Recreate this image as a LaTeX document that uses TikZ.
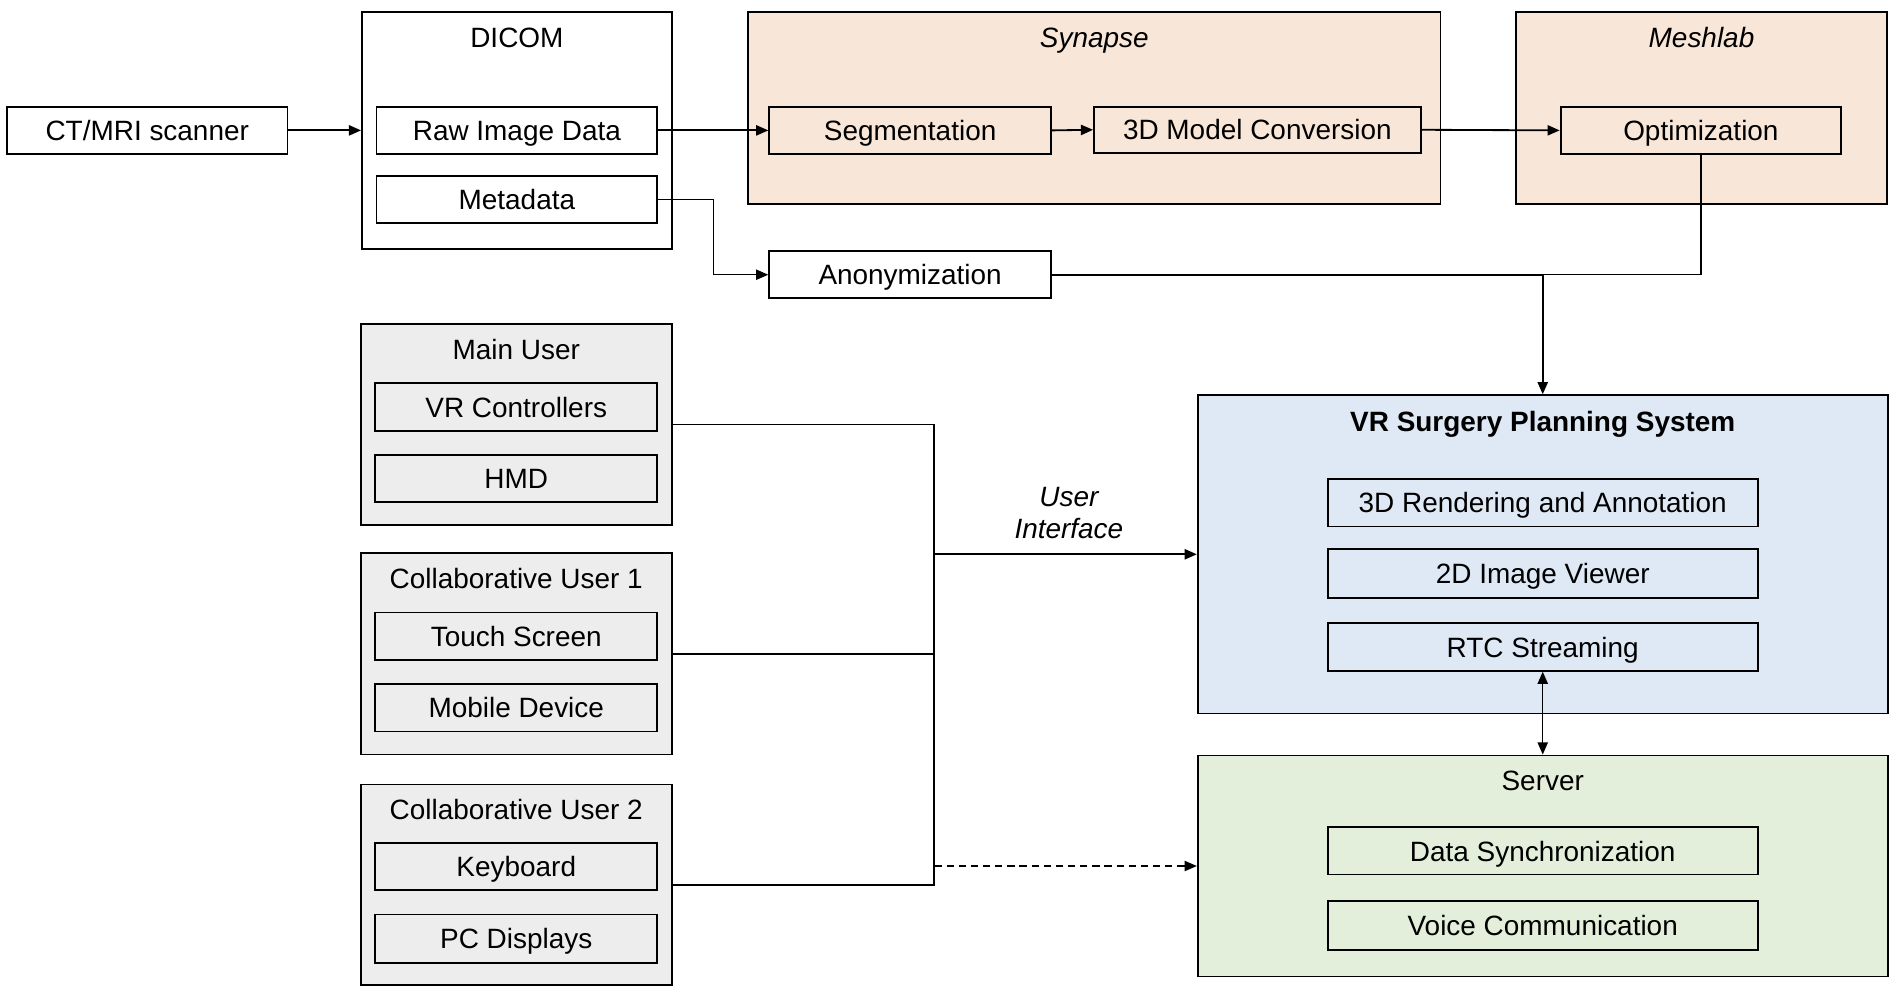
\documentclass[tikz,border=0pt]{standalone}
\usepackage{fontspec}
\setmainfont{Liberation Sans}
\usetikzlibrary{arrows.meta}
\definecolor{peach}{RGB}{248,230,216}
\definecolor{lblue}{RGB}{222,233,245}
\definecolor{lgreen}{RGB}{227,239,218}
\definecolor{lgray}{RGB}{237,237,237}
\begin{document}
\begin{tikzpicture}[x=0.4988pt,y=-0.4992pt,
  every node/.style={font=\fontsize{11.5pt}{13.5pt}\selectfont},
  box/.style={draw=black,line width=0.75pt,fill=white,rectangle,inner sep=0pt,minimum height=19.5pt,text height=8.6pt,text depth=0.2pt},
  grp/.style={draw=black,line width=0.75pt,rectangle,inner sep=0pt},
  ttl/.style={inner sep=0pt,anchor=center,text height=8.6pt,text depth=0.2pt},
  conn/.style={line width=0.75pt},
  arr/.style={line width=0.75pt,-{Triangle[length=5pt,width=4.2pt]}},
  darr/.style={line width=0.6pt,{Triangle[length=5pt,width=4.2pt]}-{Triangle[length=5pt,width=4.2pt]}}
]
\useasboundingbox (0,0) rectangle (1567.8,819.6);
% ---- groups
\node[grp,fill=white,minimum width=127.5pt,minimum height=97.5pt] (dicom) at (426.5,107.5) {};
\node[ttl] (dicomt) at (426.5,31) {DICOM};
\node[grp,fill=peach,minimum width=285pt,minimum height=79pt] (synapse) at (903,89) {};
\node[ttl] (synt) at (903,31) {\itshape Synapse};
\node[grp,fill=peach,minimum width=153pt,minimum height=79pt] (meshlab) at (1404,89) {};
\node[ttl] (mesht) at (1404,31) {\itshape Meshlab};
\node[grp,fill=lblue,minimum width=284pt,minimum height=131pt] (vr) at (1273,457) {};
\node[ttl] (vrt) at (1273,347) {\bfseries VR Surgery Planning System};
\node[grp,fill=lgreen,minimum width=284pt,minimum height=91pt] (server) at (1273,714) {};
\node[ttl] (servert) at (1273,643) {Server};
\node[grp,fill=lgray,minimum width=128pt,minimum height=83pt] (main) at (426,350) {};
\node[ttl] (maint) at (426,288) {Main User};
\node[grp,fill=lgray,minimum width=128pt,minimum height=83pt] (cu1) at (426,539) {};
\node[ttl] (cu1t) at (426,477) {Collaborative User 1};
\node[grp,fill=lgray,minimum width=128pt,minimum height=82.5pt] (cu2) at (426,729.5) {};
\node[ttl] (cu2t) at (426,667) {Collaborative User 2};
% ---- boxes
\node[box,minimum width=115.5pt] (ct) at (121.5,107.5) {CT/MRI scanner};
\node[box,minimum width=115.5pt] (raw) at (426.5,107.5) {Raw Image Data};
\node[box,minimum width=115.5pt] (meta) at (426.5,164.5) {Metadata};
\node[box,fill=peach,minimum width=116pt] (seg) at (751,107.5) {Segmentation};
\node[box,fill=peach,minimum width=134.5pt,minimum height=19pt] (conv) at (1037.5,107) {3D Model Conversion};
\node[box,fill=peach,minimum width=115.5pt] (opt) at (1403.5,107.5) {Optimization};
\node[box,minimum width=116pt] (anon) at (751,226.5) {Anonymization};
\node[box,fill=lblue,minimum width=177pt] (r3d) at (1273,414.5) {3D Rendering and Annotation};
\node[box,fill=lblue,minimum width=177pt,minimum height=20pt] (v2d) at (1273,473) {2D Image Viewer};
\node[box,fill=lblue,minimum width=177pt] (rtc) at (1273,533.5) {RTC Streaming};
\node[box,fill=lgreen,minimum width=177pt] (sync) at (1273,701.5) {Data Synchronization};
\node[box,fill=lgreen,minimum width=177pt,minimum height=20pt] (voice) at (1273,763) {Voice Communication};
\node[box,fill=lgray,minimum width=116pt] (vrc) at (426,335.5) {VR Controllers};
\node[box,fill=lgray,minimum width=116pt] (hmd) at (426,394.5) {HMD};
\node[box,fill=lgray,minimum width=116pt] (touch) at (426,524.5) {Touch Screen};
\node[box,fill=lgray,minimum width=116pt] (mobile) at (426,583.5) {Mobile Device};
\node[box,fill=lgray,minimum width=116pt] (kb) at (426,714.5) {Keyboard};
\node[box,fill=lgray,minimum width=116pt,minimum height=20pt] (pc) at (426,774) {PC Displays};
\node[inner sep=0pt,align=center,font=\fontsize{11.5pt}{13.5pt}\selectfont\itshape] (ui) at (882,423) {User\\Interface};
% ---- connectors
\draw[arr] (ct.east) -- (dicom.west);
\draw[arr] (raw.east) -- (seg.west);
\draw[arr] (seg.east) -- (conv.west);
\draw[arr] (conv.east) -- (opt.west);
\coordinate (mbend) at (589,164.5);
\draw[arr,line width=0.55pt] (meta.east) -- (mbend) |- (anon.west);
\coordinate (join) at (vr.north |- anon.east);
\draw[conn] (anon.east) -- (join);
\draw[conn,line width=0.55pt] (opt.south) |- (join);
\draw[arr] (join) -- (vr.north);
\draw[darr] (rtc.south) -- (server.north);
\coordinate (bt) at (771,350);
\coordinate (bb) at (771,729.5);
\draw[conn] (main.east) -- (bt) -- (bb) -- (cu2.east);
\draw[conn] (cu1.east) -- (cu1.east -| bt);
\draw[arr] (bt |- vr.west) -- (vr.west);
\draw[arr,dashed,line width=0.5pt,dash pattern=on 3pt off 2pt] (bt |- server.west) -- (server.west);
\end{tikzpicture}
\end{document}
